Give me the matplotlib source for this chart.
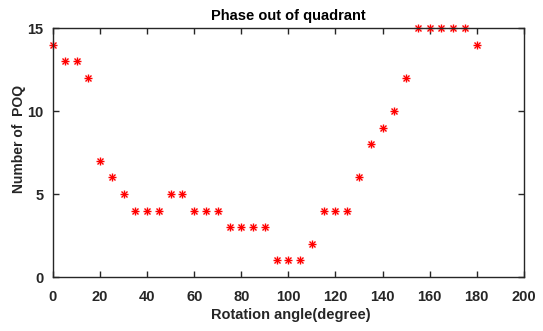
import matplotlib.pyplot as plt

plt.rcParams['font.family'] = ['Liberation Sans', 'DejaVu Sans']
plt.rcParams['font.weight'] = 'bold'

angle = [0, 5, 10, 15, 20, 25, 30, 35, 40, 45, 50, 55, 60, 65, 70, 75, 80, 85, 90,
         95, 100, 105, 110, 115, 120, 125, 130, 135, 140, 145, 150, 155, 160, 165,
         170, 175, 180]
poq = [14, 13, 13, 12, 7, 6, 5, 4, 4, 4, 5, 5, 4, 4, 4, 3, 3, 3, 3,
       1, 1, 1, 2, 4, 4, 4, 6, 8, 9, 10, 12, 15, 15, 15,
       15, 15, 14]

fig = plt.figure(figsize=(5.43, 3.31), dpi=100)
ax = fig.add_axes([0.0976, 0.163, 0.867, 0.752])

# MATLAB-style asterisk: plus + cross
ax.plot(angle, poq, ls='none', marker='+', ms=6, mew=1.0, color='red', clip_on=False)
ax.plot(angle, poq, ls='none', marker='x', ms=4.5, mew=1.0, color='red', clip_on=False)

ax.set_xlim(0, 200)
ax.set_ylim(0, 15)
ax.set_xticks(range(0, 201, 20))
ax.set_yticks([0, 5, 10, 15])
ax.tick_params(direction='in', top=True, right=True, length=4, width=1,
               labelsize=10.5, colors='#262626')
ax.tick_params(axis='x', pad=9)
ax.tick_params(axis='y', pad=7)
for s in ax.spines.values():
    s.set_linewidth(1)
    s.set_color('#262626')

ax.set_xlabel('Rotation angle(degree)', fontsize=10.5, fontweight='bold', color='#262626')
ax.set_ylabel('Number of  POQ', fontsize=10, fontweight='bold', color='#262626')
ax.xaxis.set_label_coords(0.505, -0.125)
ax.yaxis.set_label_coords(-0.057, 0.556)
ax.set_title('Phase out of quadrant', fontsize=10.5, fontweight='bold', color='black', pad=6)

fig.savefig('out.png', dpi=100)
